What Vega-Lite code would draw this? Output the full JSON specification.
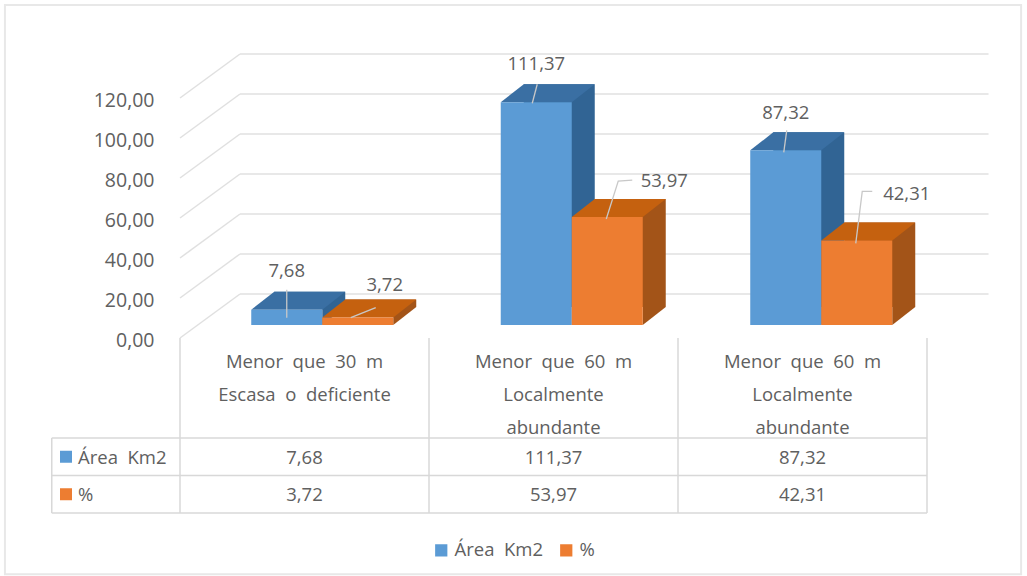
{
"$schema":"https://vega.github.io/schema/vega-lite/v6.json",
"width":1027,"height":576,"padding":0,"autosize":{"type":"none"},"background":"#ffffff",
"config":{"view":{"stroke":null},"font":"Open Sans","text":{"font":"Open Sans","color":"#606060"}},
"datasets":{
"valores":[
{"grupo":"Grupo 1","serie":"Área Km2","valor":7.68,"rotulo":"7,68","id":"a1"},
{"grupo":"Grupo 1","serie":"%","valor":3.72,"rotulo":"3,72","id":"p1"},
{"grupo":"Grupo 2","serie":"Área Km2","valor":111.37,"rotulo":"111,37","id":"a2"},
{"grupo":"Grupo 2","serie":"%","valor":53.97,"rotulo":"53,97","id":"p2"},
{"grupo":"Grupo 3","serie":"Área Km2","valor":87.32,"rotulo":"87,32","id":"a3"},
{"grupo":"Grupo 3","serie":"%","valor":42.31,"rotulo":"42,31","id":"p3"}],
"categorias":[
{"grupo":"Grupo 1","etiqueta":"Menor\u00a0\u00a0que\u00a0\u00a030\u00a0\u00a0m\nEscasa\u00a0\u00a0o\u00a0\u00a0deficiente"},
{"grupo":"Grupo 2","etiqueta":"Menor\u00a0\u00a0que\u00a0\u00a060\u00a0\u00a0m\nLocalmente\nabundante"},
{"grupo":"Grupo 3","etiqueta":"Menor\u00a0\u00a0que\u00a0\u00a060\u00a0\u00a0m\nLocalmente\nabundante"}],
"series":[{"serie":"Área Km2","nombre":"Área\u00a0\u00a0Km2"},{"serie":"%","nombre":"%"}],
"marcas":[{"tick":0},{"tick":20},{"tick":40},{"tick":60},{"tick":80},{"tick":100},{"tick":120}],
"columnas":[{"col":0},{"col":1},{"col":2},{"col":3}],
"filas":[{"fila":0},{"fila":1},{"fila":2}]
},
"resolve":{"scale":{"x":"independent","y":"independent","color":"independent"},"axis":{"x":"independent","y":"independent"}},
"layer":[
{"layer":[
 {"data":{"values":[{"marco":"exterior"}]},"mark":{"type":"rect","fill":null,"stroke":"#e8e8e8","strokeWidth":2},
  "encoding":{"x":{"datum":-0.703,"type":"quantitative","scale":{"domain":[0,3],"range":[180,927]},"axis":null},"x2":{"datum":3.378},
  "y":{"datum":-11.55,"type":"quantitative","scale":{"domain":[0,2],"range":[438,513]},"axis":null},"y2":{"datum":3.63}}},
 {"data":{"name":"columnas"},"mark":{"type":"rule","stroke":"#d8d8d8","strokeWidth":1.5},
  "encoding":{"x":{"field":"col","type":"quantitative"},"y":{"datum":-2.67,"type":"quantitative"},"y2":{"datum":2}}},
 {"data":{"name":"filas"},"mark":{"type":"rule","stroke":"#d8d8d8","strokeWidth":1.5},
  "encoding":{"y":{"field":"fila","type":"quantitative"},"x":{"datum":-0.515,"type":"quantitative"},"x2":{"datum":3}}},
 {"data":{"values":[{"borde":"izquierdo"}]},"mark":{"type":"rule","stroke":"#d8d8d8","strokeWidth":1.5},
  "encoding":{"x":{"datum":-0.515,"type":"quantitative"},"y":{"datum":0,"type":"quantitative"},"y2":{"datum":2}}}
]},
{"layer":[
 {"data":{"name":"marcas"},"mark":{"type":"rule","stroke":"#e0e0e0","strokeWidth":1.5,"yOffset":-44},
  "encoding":{"y":{"field":"tick","type":"quantitative","scale":{"domain":[0,120],"range":[338,98]},"axis":{"values":[0,20,40,60,80,100,120],"orient":"left","offset":-154,"domain":false,"ticks":false,"grid":false,"title":null,"labelPadding":0,"labelOffset":2,"labelFont":"Open Sans","labelFontSize":19.5,"labelColor":"#606060","labelExpr":"replace(format(datum.value,'.2f'),'.',',')"}},
  "x":{"datum":0.241,"type":"quantitative","scale":{"domain":[0,3],"range":[180,927]},"axis":null},"x2":{"datum":3.247}}},
 {"data":{"name":"marcas"},"mark":{"type":"point","shape":"M0 0L60 -44","filled":false,"stroke":"#e0e0e0","strokeWidth":1.5,"size":4,"opacity":1},
  "encoding":{"y":{"field":"tick","type":"quantitative"},"x":{"datum":0,"type":"quantitative"}}}
]},
{"data":{"name":"valores"},
 "mark":{"type":"bar"},
 "encoding":{
  "x":{"field":"grupo","type":"nominal","scale":{"domain":["Grupo 1","Grupo 2","Grupo 3"],"range":[220.5,969],"paddingInner":0,"paddingOuter":0},"axis":null},
  "xOffset":{"field":"serie","type":"nominal","scale":{"domain":["Área Km2","%"],"paddingInner":0,"paddingOuter":0.757}},
  "y":{"field":"valor","type":"quantitative","scale":{"domain":[0,120],"range":[307,67],"nice":false},"axis":null},
  "fill":{"condition":{"test":"datum.serie==='%'","value":"#a35418"},"value":"#316494"}}},
{"encoding":{
  "x":{"field":"grupo","type":"nominal","scale":{"domain":["Grupo 1","Grupo 2","Grupo 3"],"range":[197.5,946],"paddingInner":0,"paddingOuter":0},"axis":null},
  "xOffset":{"field":"serie","type":"nominal","scale":{"domain":["Área Km2","%"],"paddingInner":0,"paddingOuter":0.757}},
  "y":{"field":"valor","type":"quantitative","scale":{"domain":[0,120],"range":[325,85],"nice":false},"axis":null}},
 "data":{"name":"valores"},
 "layer":[
 {"mark":{"type":"point","filled":true,"size":4,"opacity":1,"shape":"M35.5 0L58.5 -18L35.5 -18Z"},
  "encoding":{"y":{"datum":0,"type":"quantitative"},"fill":{"condition":{"test":"datum.serie==='%'","value":"#a35418"},"value":"#316494"}}},
 {"mark":{"type":"point","filled":true,"size":4,"opacity":1,"shape":"M-35.5 0L35.5 0L58.5 -18L-12.5 -18Z"},
  "encoding":{"fill":{"condition":{"test":"datum.serie==='%'","value":"#c5610f"},"value":"#3a6fa3"}}},
 {"mark":{"type":"bar"},
  "encoding":{"color":{"field":"serie","type":"nominal","scale":{"domain":["Área Km2","%"],"range":["#5b9bd5","#ed7d31"]},
   "legend":{"orient":"none","legendX":432,"legendY":541,"direction":"horizontal","title":null,"symbolType":"square","symbolSize":150,"symbolStrokeWidth":0,"labelFont":"Open Sans","labelFontSize":18.5,"labelColor":"#606060","columnPadding":13,"labelOffset":4,"labelExpr":"replace(datum.label,' ','\u00a0\u00a0')"}}}},
 {"mark":{"type":"point","filled":false,"stroke":"#c8c8c8","strokeWidth":1.3,"size":4,"opacity":1},
  "encoding":{"shape":{"field":"id","type":"nominal","legend":null,"scale":{"domain":["a1","p1","a2","p2","a3","p3"],"range":["M0 8L0 -20","M-7 0L18 -10","M-4 1L1 -18","M-1 2L11 -36L25 -37","M-2 2L1 -20","M-1 3L5.5 -49L15.5 -49"]}}}},
 {"transform":[{"filter":"datum.id==='a1'"}],"mark":{"type":"text","fontSize":18.5,"dy":-39},"encoding":{"text":{"field":"rotulo"}}},
 {"transform":[{"filter":"datum.id==='p1'"}],"mark":{"type":"text","fontSize":18.5,"dx":27,"dy":-33},"encoding":{"text":{"field":"rotulo"}}},
 {"transform":[{"filter":"datum.id==='a2'"}],"mark":{"type":"text","fontSize":18.5,"dy":-38},"encoding":{"text":{"field":"rotulo"}}},
 {"transform":[{"filter":"datum.id==='p2'"}],"mark":{"type":"text","fontSize":18.5,"dx":57,"dy":-36},"encoding":{"text":{"field":"rotulo"}}},
 {"transform":[{"filter":"datum.id==='a3'"}],"mark":{"type":"text","fontSize":18.5,"dy":-37},"encoding":{"text":{"field":"rotulo"}}},
 {"transform":[{"filter":"datum.id==='p3'"}],"mark":{"type":"text","fontSize":18.5,"dx":50,"dy":-46},"encoding":{"text":{"field":"rotulo"}}}
]},
{"layer":[
 {"data":{"name":"valores"},"mark":{"type":"text","fontSize":18.5,"dy":1},
  "encoding":{"x":{"field":"grupo","type":"nominal","scale":{"domain":["Grupo 1","Grupo 2","Grupo 3"],"range":[180,927],"paddingInner":0,"paddingOuter":0},"axis":null},
   "y":{"field":"serie","type":"nominal","scale":{"domain":["Cabecera","Área Km2","%"],"range":[400.5,513],"paddingInner":0,"paddingOuter":0},"axis":null},
   "text":{"field":"rotulo"}}},
 {"data":{"name":"categorias"},"mark":{"type":"text","fontSize":18.5,"lineBreak":"\n","lineHeight":33,"baseline":"top","dy":-66},
  "encoding":{"x":{"field":"grupo","type":"nominal"},"y":{"datum":"Cabecera","type":"nominal"},"text":{"field":"etiqueta"}}},
 {"data":{"name":"series"},"mark":{"type":"text","fontSize":18.5,"align":"left","dx":-226.5,"dy":1},
  "encoding":{"x":{"datum":"Grupo 1","type":"nominal"},"y":{"field":"serie","type":"nominal"},"text":{"field":"nombre"}}},
 {"data":{"name":"series"},"mark":{"type":"point","shape":"M-244.5 -6H-232.5V6H-244.5Z","filled":true,"size":4,"opacity":1},
  "encoding":{"x":{"datum":"Grupo 1","type":"nominal"},"y":{"field":"serie","type":"nominal"},"fill":{"condition":{"test":"datum.serie==='%'","value":"#ed7d31"},"value":"#5b9bd5"}}}
]}
]}
